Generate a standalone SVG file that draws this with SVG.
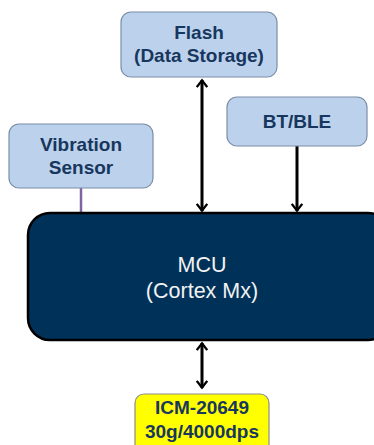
<svg xmlns="http://www.w3.org/2000/svg" width="374" height="445" viewBox="0 0 374 445">
  <style>
    .blk { fill: #bcd1ec; stroke: #7b8ea8; stroke-width: 1.2; }
    .lbl { font-family: "Liberation Sans", Arial, sans-serif; font-weight: bold; font-size: 19px; fill: #17375e; text-anchor: middle; }
    .mcu { fill: #003159; stroke: #000; stroke-width: 2.5; }
    .mcutxt { font-family: "Liberation Sans", Arial, sans-serif; font-size: 21.5px; fill: #f2f2f2; text-anchor: middle; }
    .wire { stroke: #000; stroke-width: 3; fill: none; }
    .spi { stroke: #8064a2; stroke-width: 2.5; fill: none; }
  </style>
  <defs>
    <!-- open chevron arrowhead, sized in user units -->
    <marker id="head" viewBox="0 0 12 16" refX="10.5" refY="8" markerWidth="9" markerHeight="12" markerUnits="userSpaceOnUse" orient="auto-start-reverse" overflow="visible">
      <path d="M1 1 L10 8 L1 15" fill="none" stroke="#000" stroke-width="3.2" stroke-linejoin="miter"/>
    </marker>
  </defs>

  <rect width="374" height="445" fill="#ffffff"/>

  <!-- connectors -->
  <g id="connectors">
    <line class="spi" x1="81" y1="188" x2="81" y2="213"/>
    <line class="wire" x1="202" y1="80" x2="202" y2="211" marker-start="url(#head)" marker-end="url(#head)"/>
    <line class="wire" x1="297" y1="146" x2="297" y2="211" marker-end="url(#head)"/>
    <line class="wire" x1="202" y1="343" x2="202" y2="388" marker-start="url(#head)" marker-end="url(#head)"/>
  </g>

  <g id="flash">
    <rect class="blk" x="121" y="12" width="156" height="65" rx="10"/>
    <text class="lbl" x="199" y="39">Flash</text>
    <text class="lbl" x="199" y="62">(Data Storage)</text>
  </g>

  <g id="vibration-sensor">
    <rect class="blk" x="9" y="124" width="144" height="64" rx="10"/>
    <text class="lbl" x="81" y="151">Vibration</text>
    <text class="lbl" x="81" y="174">Sensor</text>
  </g>

  <g id="bt-ble">
    <rect class="blk" x="227" y="97" width="140" height="49" rx="10"/>
    <text class="lbl" x="297" y="128">BT/BLE</text>
  </g>

  <g id="mcu">
    <rect class="mcu" x="28" y="213" width="362" height="127" rx="22"/>
    <text class="mcutxt" x="202" y="272">MCU</text>
    <text class="mcutxt" x="202" y="298">(Cortex Mx)</text>
  </g>

  <g id="imu">
    <rect x="135" y="394" width="134" height="60" rx="9" fill="#ffff00" stroke="#8c8c8c" stroke-width="1.2"/>
    <text class="lbl" x="202" y="414">ICM-20649</text>
    <text class="lbl" x="202" y="438">30g/4000dps</text>
  </g>
</svg>
